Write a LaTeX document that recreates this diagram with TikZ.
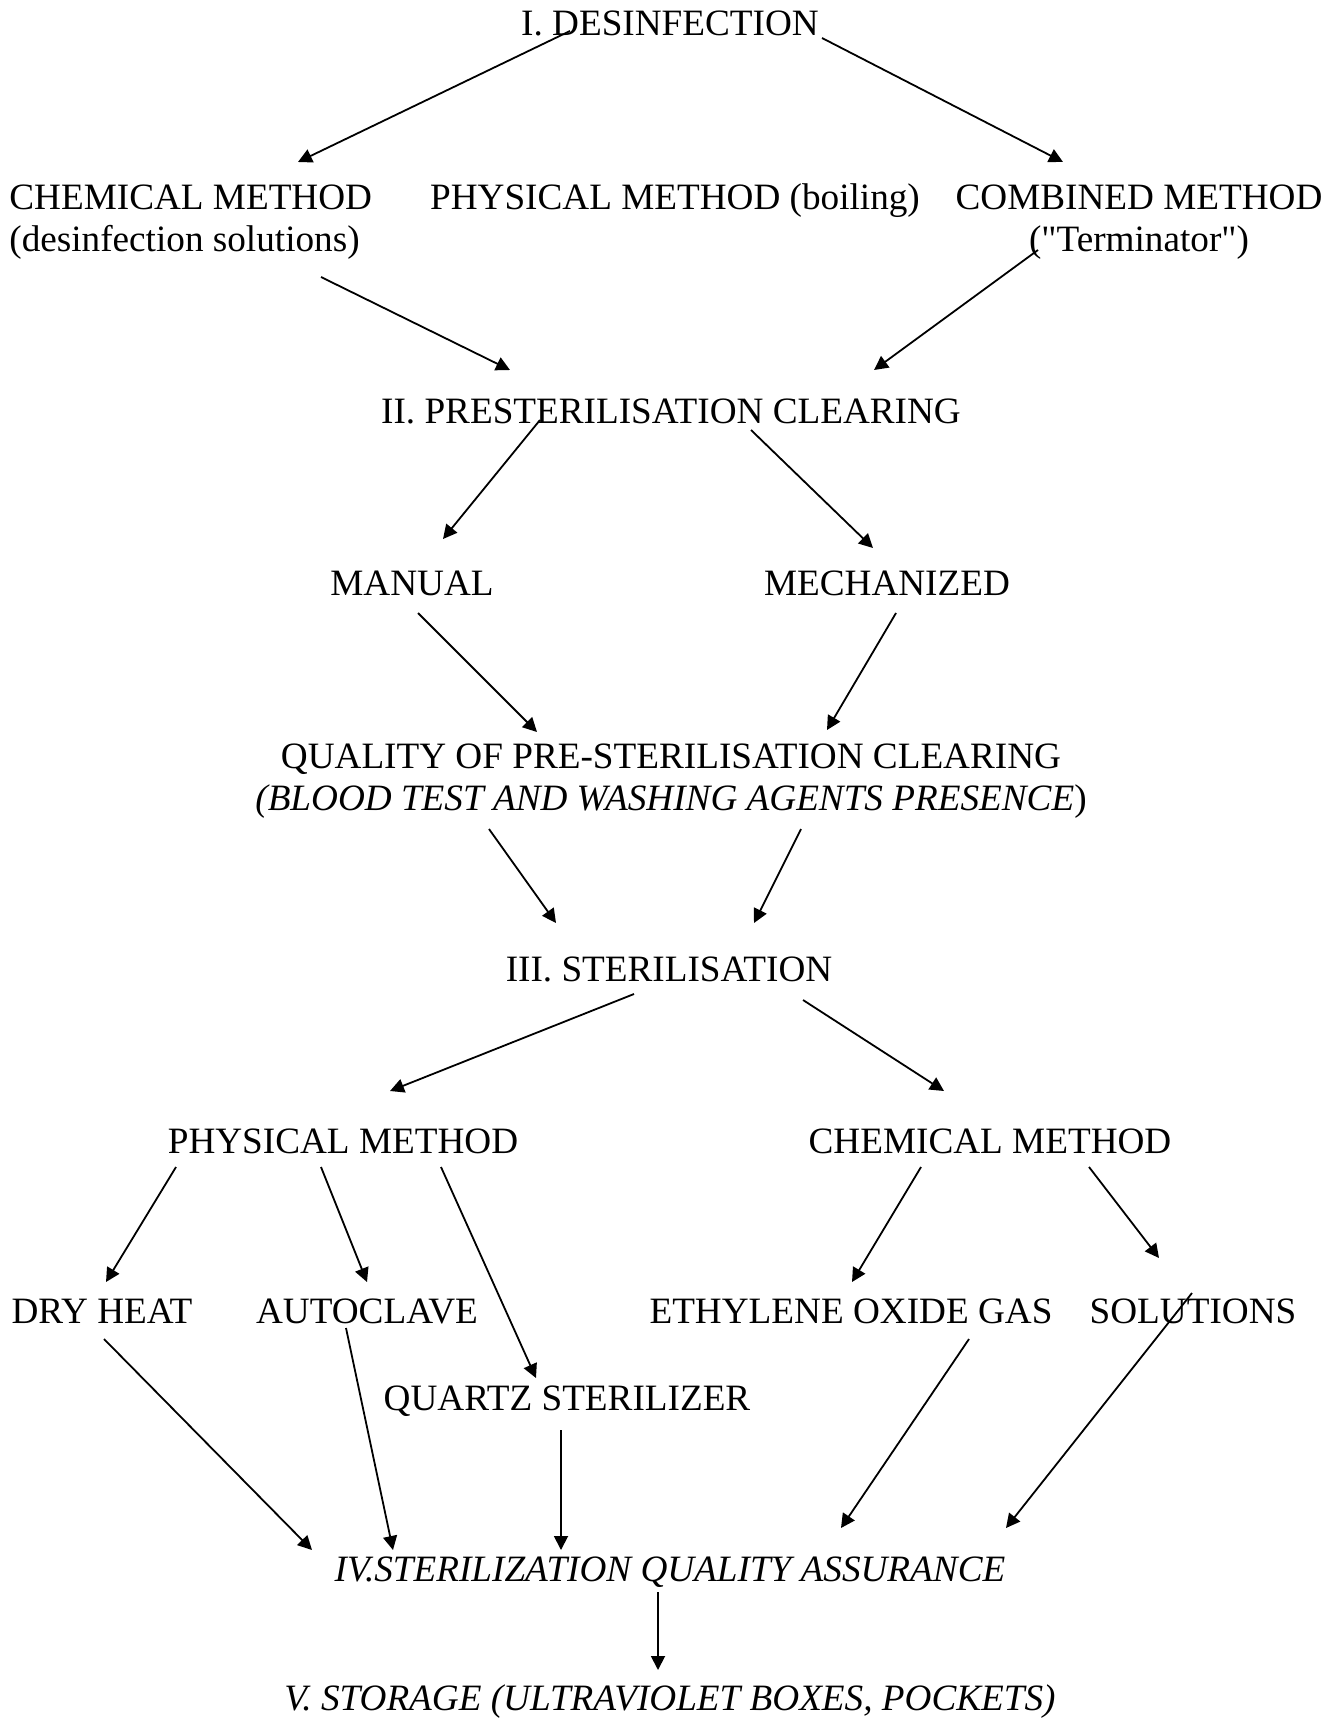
\documentclass[tikz,border=0pt]{standalone}
\usepackage{fontspec}
\setmainfont{Liberation Serif}[Ligatures=TeXOff]
\usetikzlibrary{arrows.meta,calc}

\begin{document}
\begin{tikzpicture}[x=.5pt,y=-.5pt,>={Triangle[length=7pt,width=7pt]},
  font=\fontsize{18.6}{20.8}\selectfont,
  every node/.style={inner sep=0pt,anchor=base},
  link/.style={->,line width=.9pt}]
\useasboundingbox (0,0) rectangle (1343,1718);
% stages and methods
\node (des) at (670,36) {I. DESINFECTION};
\node[anchor=base west,align=left] (chem) at (9,251) {CHEMICAL METHOD\\(desinfection solutions)};
\node (boil) at (675,209) {PHYSICAL METHOD (boiling)};
\node[align=center] (comb) at (1139,251) {COMBINED METHOD\\("Terminator")};
\node (pres) at (671,423) {II. PRESTERILISATION CLEARING};
\node (man) at (412,595) {MANUAL};
\node (mech) at (887,595) {MECHANIZED};
\node[align=center] (qual) at (671,810) {QUALITY OF PRE-STERILISATION CLEARING\\\textit{(BLOOD TEST AND WASHING AGENTS PRESENCE})};
\node (ster) at (669,981) {III. STERILISATION};
\node (phys) at (343,1153) {PHYSICAL METHOD};
\node (chm) at (990,1153) {CHEMICAL METHOD};
\node (dry) at (102,1323) {DRY HEAT};
\node (auto) at (367,1323) {AUTOCLAVE};
\node (eth) at (851,1323) {ETHYLENE OXIDE GAS};
\node (sol) at (1193,1323) {SOLUTIONS};
\node (quartz) at (567,1410) {QUARTZ STERILIZER};
\node (qa) at (670,1581) {\textit{IV.STERILIZATION QUALITY ASSURANCE}};
\node (stor) at (670,1710) {\textit{V. STORAGE (ULTRAVIOLET BOXES, POCKETS)}};

% arrows
\draw[link] ($(des.base)+(-100,-5)$) -- ($(chem.base west)+(289,-89)$);
\draw[link] ($(des.base)+(152,2)$) -- ($(comb.base)+(-76,-89)$);
\draw[link] ($(chem.base west)+(312,26)$) -- ($(pres.base)+(-161,-53)$);
\draw[link] ($(comb.base)+(-101,-1)$) -- ($(pres.base)+(203,-53)$);
\draw[link] ($(pres.base)+(-131,-3)$) -- ($(man.base)+(31,-56)$);
\draw[link] ($(pres.base)+(80,7)$) -- ($(mech.base)+(-14,-47)$);
\draw[link] ($(man.base)+(6,18)$) -- ($(qual.base)+(-134,-78)$);
\draw[link] ($(mech.base)+(9,18)$) -- ($(qual.base)+(156,-80)$);
\draw[link] ($(qual.base)+(-182,19)$) -- ($(ster.base)+(-113,-58)$);
\draw[link] ($(qual.base)+(130,19)$) -- ($(ster.base)+(85,-58)$);
\draw[link] ($(ster.base)+(-35,13)$) -- ($(phys.base)+(47,-62)$);
\draw[link] ($(ster.base)+(134,19)$) -- ($(chm.base)+(-46,-62)$);
\draw[link] ($(phys.base)+(-167,14)$) -- ($(dry.base)+(4,-41)$);
\draw[link] ($(phys.base)+(-22,14)$) -- ($(auto.base)+(0,-41)$);
\draw[link] ($(phys.base)+(98,14)$) -- ($(quartz.base)+(-31,-32)$);
\draw[link] ($(chm.base)+(-69,14)$) -- ($(eth.base)+(1,-41)$);
\draw[link] ($(chm.base)+(99,14)$) -- ($(sol.base)+(-34,-65)$);
\draw[link] ($(dry.base)+(2,16)$) -- ($(qa.base)+(-358,-31)$);
\draw[link] ($(auto.base)+(-21,5)$) -- ($(qa.base)+(-277,-31)$);
\draw[link] ($(quartz.base)+(-6,20)$) -- ($(qa.base)+(-109,-31)$);
\draw[link] ($(eth.base)+(118,16)$) -- ($(qa.base)+(171,-53)$);
\draw[link] ($(sol.base)+(-1,-30)$) -- ($(qa.base)+(336,-53)$);
\draw[link] ($(qa.base)+(-12,11)$) -- ($(stor.base)+(-12,-40)$);
\end{tikzpicture}
\end{document}
